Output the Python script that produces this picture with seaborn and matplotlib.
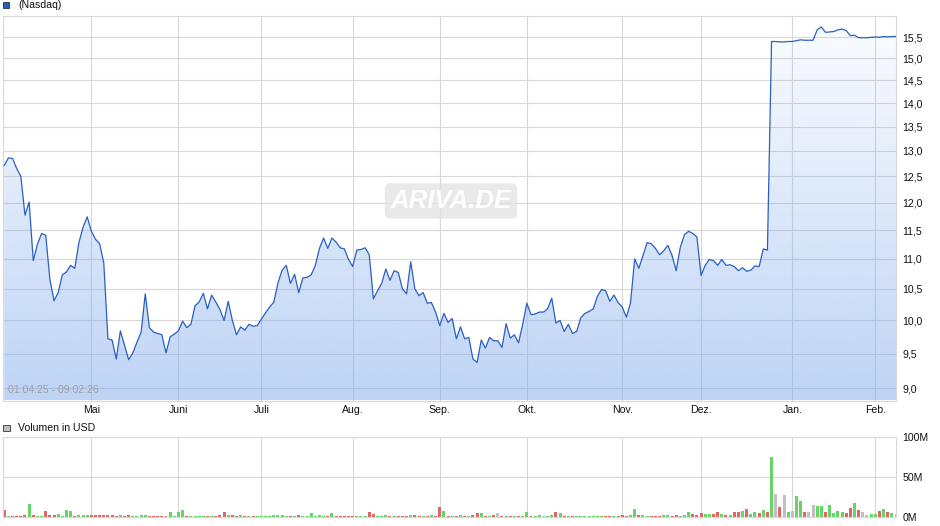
import numpy as np
import pandas as pd
import seaborn as sns
import matplotlib.pyplot as plt
from matplotlib.patches import Rectangle
from matplotlib.ticker import FixedLocator, NullLocator

# closing prices, one per trading day 01.04.25 - 09.02.26
price = [
    12.71, 12.86, 12.85, 12.65, 12.50, 11.77, 12.01, 10.97, 11.25, 11.44,
    11.41, 10.66, 10.31, 10.44, 10.73, 10.78, 10.89, 10.84, 11.28, 11.55,
    11.74, 11.48, 11.34, 11.26, 10.93, 9.72, 9.70, 9.42, 9.84, 9.62,
    9.41, 9.51, 9.67, 9.82, 10.42, 9.89, 9.82, 9.80, 9.78, 9.51,
    9.75, 9.79, 9.84, 9.99, 9.89, 9.94, 10.23, 10.29, 10.43, 10.18,
    10.40, 10.29, 10.17, 10.00, 10.30, 10.00, 9.78, 9.90, 9.85, 9.94,
    9.91, 9.92, 10.02, 10.12, 10.21, 10.29, 10.60, 10.81, 10.89, 10.59,
    10.74, 10.44, 10.68, 10.69, 10.73, 10.89, 11.18, 11.36, 11.18, 11.36,
    11.29, 11.19, 11.17, 10.99, 10.87, 11.15, 11.16, 11.19, 11.07, 10.34,
    10.47, 10.59, 10.83, 10.64, 10.80, 10.77, 10.50, 10.42, 10.95, 10.50,
    10.39, 10.44, 10.27, 10.28, 10.13, 9.92, 10.11, 9.97, 10.03, 9.72,
    9.90, 9.72, 9.74, 9.42, 9.37, 9.70, 9.58, 9.74, 9.69, 9.69,
    9.59, 9.95, 9.73, 9.78, 9.66, 9.94, 10.27, 10.09, 10.10, 10.13,
    10.13, 10.18, 10.35, 9.96, 10.00, 9.83, 9.94, 9.80, 9.83, 10.04,
    10.11, 10.14, 10.18, 10.38, 10.49, 10.47, 10.30, 10.40, 10.28, 10.21,
    10.05, 10.28, 11.00, 10.84, 11.06, 11.28, 11.26, 11.18, 11.07, 11.14,
    11.23, 11.06, 10.80, 11.20, 11.42, 11.48, 11.44, 11.38, 10.72, 10.89,
    10.99, 10.97, 10.89, 10.99, 10.89, 10.90, 10.87, 10.80, 10.85, 10.79,
    10.81, 10.88, 10.87, 11.17, 11.15, 15.40, 15.40, 15.39, 15.39, 15.40,
    15.40, 15.42, 15.44, 15.43, 15.43, 15.43, 15.68, 15.75, 15.62, 15.63,
    15.64, 15.68, 15.70, 15.66, 15.54, 15.55, 15.49, 15.49, 15.49, 15.50,
    15.51, 15.50, 15.52, 15.51, 15.52, 15.52,
]

# volume in million USD
volume_m = [
    8.4, 1.2, 1.2, 1.2, 1.2, 2.1, 16.0, 2.1, 1.2, 1.2,
    7.1, 2.1, 2.1, 3.4, 1.2, 8.4, 7.1, 1.2, 2.1, 2.1,
    2.1, 2.1, 2.1, 2.1, 2.1, 2.1, 2.1, 1.2, 2.1, 1.2,
    2.1, 1.2, 1.2, 2.1, 2.1, 1.2, 1.2, 1.2, 1.2, 1.2,
    5.9, 1.2, 5.9, 8.4, 1.2, 1.2, 1.2, 1.2, 1.2, 1.2,
    1.2, 1.2, 2.1, 5.9, 2.1, 2.1, 1.2, 2.1, 1.2, 1.2,
    1.2, 1.2, 1.2, 1.2, 1.2, 2.1, 2.1, 2.1, 1.2, 1.2,
    1.2, 2.1, 1.2, 1.2, 4.6, 1.2, 2.1, 1.2, 1.2, 4.6,
    1.2, 1.2, 1.2, 1.2, 1.2, 1.2, 1.2, 1.2, 5.9, 3.4,
    1.2, 1.2, 2.1, 1.2, 1.2, 1.2, 1.2, 1.2, 2.1, 2.1,
    1.2, 1.2, 1.2, 2.1, 1.2, 12.2, 7.1, 1.2, 1.2, 1.2,
    2.1, 1.2, 1.2, 2.1, 4.6, 4.6, 1.2, 1.2, 2.1, 4.6,
    1.2, 1.2, 1.2, 1.2, 1.2, 1.2, 5.9, 1.2, 1.2, 2.1,
    1.2, 1.2, 2.1, 5.9, 4.6, 1.2, 1.2, 1.2, 1.2, 1.2,
    1.2, 1.2, 1.2, 1.2, 1.2, 1.2, 1.2, 1.2, 1.2, 2.1,
    1.2, 2.1, 9.7, 2.1, 2.1, 1.2, 1.2, 1.2, 1.2, 2.1,
    2.1, 1.2, 2.1, 1.2, 2.1, 5.9, 3.8, 2.1, 4.6, 3.8,
    3.8, 3.8, 5.9, 3.4, 2.1, 2.1, 5.9, 5.9, 7.1, 9.7,
    3.4, 5.9, 4.6, 8.4, 5.9, 75.0, 28.6, 12.2, 27.3, 5.9,
    7.1, 26.5, 19.7, 5.9, 5.9, 14.7, 13.4, 13.4, 5.9, 14.7,
    4.6, 7.1, 5.9, 4.6, 10.9, 17.2, 8.4, 5.9, 2.1, 3.4,
    3.4, 7.1, 9.7, 5.9, 4.6, 3.4,
]

month_idx = [21, 42, 62, 84, 105, 126, 149, 168, 190, 210]
month_lbl = ["Mai", "Juni", "Juli", "Aug.", "Sep.", "Okt.", "Nov.", "Dez.", "Jan.", "Feb."]
price_ticks = [9.0, 9.5, 10.0, 10.5, 11.0, 11.5, 12.0, 12.5, 13.0, 13.5, 14.0, 14.5, 15.0, 15.5]
vol_ticks = [0, 50, 100]
vol_lbl = ["0M", "50M", "100M"]
date_range = "01.04.25 - 09.02.26"

plt.rcParams['font.family'] = ['Liberation Sans', 'DejaVu Sans']

step = np.round(np.diff(price), 4)
dirs = ["down"] + ["up" if s > 0 else ("down" if s < 0 else "flat") for s in step]
df = pd.DataFrame({"idx": np.arange(len(price)), "price": price, "vol": volume_m, "dir": dirs})

W, H = 940, 526
fig = plt.figure(figsize=(W / 100, H / 100), dpi=100)


def box(x0, y0, x1, y1):
    return [x0 / W, 1 - y1 / H, (x1 - x0) / W, (y1 - y0) / H]


ax = fig.add_axes(box(3, 16, 896, 400.5))
ax2 = fig.add_axes(box(3, 437.3, 896, 517))

xmin, xmax = -0.3, 215.0
ymin, ymax = 8.834, 16.02
grid_c = "#d8d8d8"
txt_c = "#111111"

# price panel
ax.set_yscale("log")
ax.set_xlim(xmin, xmax)
ax.set_ylim(ymin, ymax)
ax.set_autoscale_on(False)

sns.lineplot(data=df, x="idx", y="price", ax=ax, color="#2a5fc4", lw=0.9, zorder=3)

fill = ax.fill_between(df["idx"], df["price"], ymin * 0.9, facecolor="none", edgecolor="none")
rgba = np.zeros((256, 1, 4))
rgba[..., 0] = 125 / 255
rgba[..., 1] = 168 / 255
rgba[..., 2] = 236 / 255
rgba[:, 0, 3] = np.linspace(0.03, 0.50, 256)
im = ax.imshow(rgba, extent=[0, 1, 0, 1], transform=ax.transAxes, aspect="auto",
               origin="upper", zorder=1.6, interpolation="bilinear")
im.set_clip_path(fill.get_paths()[0], transform=ax.transData)
ax.set_xlim(xmin, xmax)
ax.set_ylim(ymin, ymax)

ax.yaxis.tick_right()
ax.yaxis.set_major_locator(FixedLocator(price_ticks))
ax.yaxis.set_minor_locator(NullLocator())
ax.set_yticklabels([f"{v:.1f}".replace(".", ",") for v in price_ticks])
ax.set_xticks(month_idx, month_lbl)
ax.tick_params(axis="y", length=0, pad=4.5, labelsize=7.6, labelcolor=txt_c)
ax.tick_params(axis="x", length=0, pad=3, labelsize=7.6, labelcolor=txt_c)
ax.set_axisbelow(True)
ax.grid(True, color=grid_c, lw=0.8)
ax.set_xlabel("")
ax.set_ylabel("")
for s in ax.spines.values():
    s.set_color(grid_c)
    s.set_linewidth(0.8)

ax.text(5 / 893, 0.014, date_range, transform=ax.transAxes, fontsize=7.6,
        color="#a0a0a0", va="bottom", ha="left", zorder=4)

# watermark
fig.text(451 / W, 1 - 201 / H, "ARIVA.DE", fontsize=18.5, fontweight="bold", style="italic",
         color="white", ha="center", va="center", alpha=0.95,
         bbox=dict(boxstyle="round,pad=0.22", facecolor="#e2e2e2", edgecolor="none", alpha=0.75))

# volume panel
pal = {"up": "#66d466", "down": "#de6666", "flat": "#c0c0c0"}
sns.barplot(data=df, x="idx", y="vol", hue="dir", palette=pal, native_scale=True, dodge=False,
            width=0.72, legend=False, ax=ax2, saturation=1, errorbar=None, zorder=2)
ax2.set_xlim(xmin, xmax)
ax2.set_ylim(0, 100)
ax2.yaxis.tick_right()
ax2.set_yticks(vol_ticks, vol_lbl)
ax2.set_xticks(month_idx, [""] * len(month_idx))
ax2.tick_params(axis="both", length=0, pad=4.5, labelsize=7.6, labelcolor=txt_c)
ax2.set_axisbelow(True)
ax2.grid(True, color=grid_c, lw=0.8)
ax2.set_xlabel("")
ax2.set_ylabel("")
for s in ax2.spines.values():
    s.set_color(grid_c)
    s.set_linewidth(0.8)

# legend squares
fig.patches.append(Rectangle((3 / W, 1 - 8 / H), 6 / W, 6 / H, transform=fig.transFigure,
                             facecolor="#1f5fc8", edgecolor="#333333", lw=0.6))
fig.text(18 / W, 1 - 5.5 / H, "(Nasdaq)", fontsize=7.6, color=txt_c, va="center", ha="left")
fig.patches.append(Rectangle((3 / W, 1 - 431 / H), 6.5 / W, 6.5 / H, transform=fig.transFigure,
                             facecolor="#c0c0c0", edgecolor="#333333", lw=0.6))
fig.text(18 / W, 1 - 428 / H, "Volumen in USD", fontsize=7.6, color=txt_c, va="center", ha="left")

fig.savefig("out.png", dpi=100)
plt.close(fig)
